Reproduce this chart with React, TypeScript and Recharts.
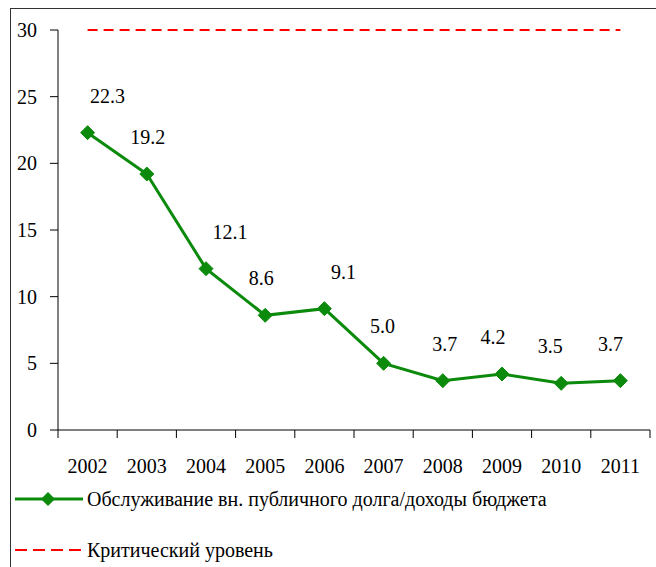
import { LineChart, Line, XAxis, YAxis, LabelList } from 'recharts';

const years = ['2002', '2003', '2004', '2005', '2006', '2007', '2008', '2009', '2010', '2011'];
const debtService = [22.3, 19.2, 12.1, 8.6, 9.1, 5.0, 3.7, 4.2, 3.5, 3.7];
const criticalLevel = [30, 30, 30, 30, 30, 30, 30, 30, 30, 30];
const yTicks = [0, 5, 10, 15, 20, 25, 30];

const seriesName = 'Обслуживание вн. публичного долга/доходы бюджета';
const criticalName = 'Критический уровень';

const data = years.map((year, i) => ({
  year,
  debt: debtService[i],
  critical: criticalLevel[i],
}));

const FONT = "'Liberation Serif', 'Times New Roman', serif";
const GREEN = '#0b8a0b';
const RED = '#ff0000';

const W = 656;
const H = 567;
const LEFT = 58;
const RIGHT = 6;
const TOP = 30;
const PLOT_H = 400;
const AXIS_Y = TOP + PLOT_H;
const BAND = (W - LEFT - RIGHT) / years.length;

// manual nudges of the value labels, like in the original
const labelDx = [20, 1, 24, -4, 19, -1, 2, -9, -11, -10];

function Diamond(props: any) {
  const { cx, cy, index } = props;
  if (cx == null || cy == null) return null;
  const r = 7;
  return (
    <polygon
      key={`d-${index}`}
      points={`${cx},${cy - r} ${cx + r},${cy} ${cx},${cy + r} ${cx - r},${cy}`}
      fill={GREEN}
      stroke={GREEN}
    />
  );
}

function XTick(props: any) {
  const { x, index, payload } = props;
  const left = x - BAND / 2;
  const right = x + BAND / 2;
  return (
    <g>
      <line x1={left} y1={AXIS_Y} x2={left} y2={AXIS_Y + 8} stroke="#000" />
      {index === years.length - 1 && (
        <line x1={right} y1={AXIS_Y} x2={right} y2={AXIS_Y + 8} stroke="#000" />
      )}
      <text className="ser" x={x} y={AXIS_Y + 43} textAnchor="middle" fontSize={20} fill="#000">
        {payload.value}
      </text>
    </g>
  );
}

function YTick(props: any) {
  const { x, y, payload } = props;
  return (
    <text className="ser" x={x} y={y} dy={7} textAnchor="end" fontSize={20} fill="#000">
      {payload.value}
    </text>
  );
}

function ValueLabel(props: any) {
  const { x, y, value, index } = props;
  return (
    <text
      className="ser"
      x={x + (labelDx[index] ?? 0)}
      y={y - 30}
      textAnchor="middle"
      fontSize={20}
      fill="#000"
    >
      {Number(value).toFixed(1)}
    </text>
  );
}

export default function App() {
  return (
    <div
      className="ser"
      style={{
        position: 'absolute',
        left: 0,
        top: 0,
        width: W,
        height: H,
        overflow: 'hidden',
        background: '#fff',
      }}
    >
      <style>{`.ser, .ser * { font-family: ${FONT} !important; }`}</style>
      <div
        style={{
          position: 'absolute',
          left: 10,
          top: 8,
          width: 700,
          height: 620,
          border: '1px solid #333',
        }}
      />
      <div style={{ position: 'absolute', left: 0, top: 0 }}>
        <LineChart
          width={W}
          height={H}
          data={data}
          margin={{ top: TOP, right: RIGHT, bottom: H - AXIS_Y - 60, left: 0 }}
        >
          <XAxis
            dataKey="year"
            height={60}
            padding={{ left: BAND / 2, right: BAND / 2 }}
            axisLine={{ stroke: '#000' }}
            tickLine={false}
            tick={<XTick />}
            interval={0}
          />
          <YAxis
            width={LEFT}
            domain={[0, 30]}
            ticks={yTicks}
            axisLine={{ stroke: '#000' }}
            tickLine={{ stroke: '#000' }}
            tickSize={8}
            tickMargin={13}
            tick={<YTick />}
            interval={0}
          />
          <Line
            dataKey="critical"
            name={criticalName}
            stroke={RED}
            strokeWidth={2}
            strokeDasharray="10 6"
            dot={false}
            activeDot={false}
            isAnimationActive={false}
          />
          <Line
            dataKey="debt"
            name={seriesName}
            stroke={GREEN}
            strokeWidth={3}
            dot={<Diamond />}
            activeDot={false}
            isAnimationActive={false}
          >
            <LabelList dataKey="debt" content={<ValueLabel />} />
          </Line>
        </LineChart>
      </div>
      <div style={{ position: 'absolute', left: 15, top: 486, lineHeight: '26px' }}>
        <div style={{ display: 'flex', alignItems: 'center', height: 26 }}>
          <svg width={68} height={16} style={{ marginRight: 4 }}>
            <line x1={0} y1={8} x2={68} y2={8} stroke={GREEN} strokeWidth={3} />
            <polygon points="33,1 40,8 33,15 26,8" fill={GREEN} />
          </svg>
          <span style={{ fontSize: 20, color: '#000', whiteSpace: 'nowrap' }}>{seriesName}</span>
        </div>
        <div style={{ display: 'flex', alignItems: 'center', height: 26, marginTop: 25 }}>
          <svg width={68} height={16} style={{ marginRight: 4 }}>
            <line x1={0} y1={8} x2={66} y2={8} stroke={RED} strokeWidth={2} strokeDasharray="12 6" />
          </svg>
          <span style={{ fontSize: 20, color: '#000', whiteSpace: 'nowrap' }}>{criticalName}</span>
        </div>
      </div>
    </div>
  );
}
